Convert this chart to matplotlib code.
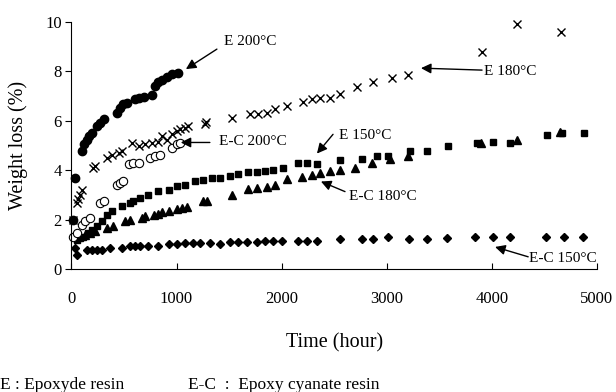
import numpy as np
import matplotlib
matplotlib.use('Agg')
import matplotlib.pyplot as plt

plt.rcParams['font.family'] = ['Liberation Serif', 'DejaVu Serif']

# E 200C - filled circles
e200_t = [15, 29, 98, 124, 146, 168, 193, 241, 273, 305, 431, 463, 495, 527, 606, 638,
          686, 765, 796, 828, 860, 908, 955, 1012]
e200_w = [2.0, 3.7, 4.77, 5.04, 5.24, 5.38, 5.52, 5.79, 5.92, 6.06, 6.33, 6.53, 6.67, 6.73,
          6.87, 6.91, 6.96, 7.05, 7.41, 7.55, 7.64, 7.78, 7.89, 7.93]

# E 180C - crosses
e180_t = [15, 50, 66, 82, 98, 209, 225, 336, 384, 448, 479, 574, 638, 701, 765, 828, 860,
          908, 955, 1000, 1031, 1079, 1111, 1270, 1280, 1524, 1698, 1778, 1857, 1937, 2048,
          2206, 2286, 2365, 2460, 2555, 2714, 2872, 3048, 3206, 3905, 4238, 4657]
e180_w = [2.0, 2.67, 2.83, 3.0, 3.21, 4.09, 4.16, 4.5, 4.63, 4.7, 4.77, 5.11, 4.97, 5.04,
          5.11, 5.15, 5.38, 5.24, 5.45, 5.58, 5.65, 5.72, 5.79, 5.85, 5.95, 6.12, 6.26, 6.26,
          6.33, 6.46, 6.6, 6.75, 6.87, 6.94, 6.94, 7.07, 7.35, 7.55, 7.75, 7.85, 8.8, 9.9, 9.6]

# E 150C - filled squares
e150_t = [50, 82, 114, 162, 193, 241, 290, 336, 384, 479, 558, 590, 653, 733, 828, 924,
          1003, 1082, 1174, 1254, 1333, 1412, 1508, 1587, 1682, 1762, 1841, 1920, 2010,
          2159, 2238, 2333, 2555, 2762, 2905, 3016, 3222, 3381, 3587, 3857, 4016, 4175,
          4524, 4667, 4879]
e150_w = [1.18, 1.25, 1.31, 1.45, 1.59, 1.72, 1.95, 2.2, 2.33, 2.53, 2.67, 2.74, 2.87, 3.01,
          3.14, 3.21, 3.35, 3.41, 3.55, 3.62, 3.69, 3.69, 3.75, 3.86, 3.91, 3.91, 3.96, 4.0,
          4.07, 4.3, 4.3, 4.23, 4.43, 4.46, 4.57, 4.59, 4.77, 4.77, 4.97, 5.11, 5.13, 5.08,
          5.41, 5.52, 5.49]

# E-C 200C - open circles
ec200_t = [19, 50, 98, 130, 177, 273, 305, 431, 463, 495, 543, 590, 638, 749, 796, 844,
           955, 1003, 1034]
ec200_w = [1.31, 1.45, 1.79, 1.92, 2.06, 2.67, 2.74, 3.41, 3.48, 3.55, 4.23, 4.3, 4.3,
           4.5, 4.57, 4.63, 4.9, 5.04, 5.11]

# E-C 180C - triangles
ec180_t = [130, 177, 225, 336, 400, 511, 558, 670, 701, 781, 828, 860, 924, 1003, 1050,
           1098, 1254, 1286, 1524, 1682, 1762, 1857, 1937, 2048, 2190, 2286, 2365, 2460,
           2555, 2698, 2857, 3032, 3206, 3900, 4238, 4650]
ec180_w = [1.38, 1.45, 1.52, 1.65, 1.72, 1.92, 1.99, 2.06, 2.13, 2.2, 2.24, 2.29, 2.33,
           2.43, 2.47, 2.51, 2.74, 2.74, 3.01, 3.24, 3.28, 3.32, 3.41, 3.65, 3.73, 3.82,
           3.89, 3.96, 4.02, 4.09, 4.3, 4.46, 4.57, 5.1, 5.24, 5.54]

# E-C 150C - diamonds
ec150_t = [34, 50, 146, 193, 241, 289, 368, 479, 558, 600, 653, 733, 828, 924, 1003, 1082,
           1158, 1222, 1317, 1412, 1508, 1587, 1667, 1762, 1841, 1920, 2000, 2159, 2238,
           2333, 2555, 2762, 2872, 3016, 3216, 3381, 3578, 3841, 4010, 4174, 4517, 4689, 4872]
ec150_w = [0.84, 0.57, 0.77, 0.77, 0.77, 0.77, 0.84, 0.84, 0.91, 0.93, 0.93, 0.93, 0.93,
           1.02, 1.02, 1.04, 1.04, 1.04, 1.04, 1.02, 1.07, 1.07, 1.07, 1.07, 1.11, 1.11,
           1.15, 1.15, 1.15, 1.15, 1.2, 1.2, 1.2, 1.29, 1.2, 1.2, 1.27, 1.29, 1.29, 1.29,
           1.31, 1.31, 1.31]

fig = plt.figure(figsize=(6.16, 3.92), dpi=100)
ax = fig.add_axes([0.116, 0.314, 0.853, 0.630])

ax.plot(e200_t, e200_w, 'o', color='black', ms=6, clip_on=False)
ax.plot(e180_t, e180_w, 'x', color='black', ms=6, mew=1, clip_on=False)
ax.plot(e150_t, e150_w, 's', color='black', ms=5, clip_on=False)
ax.plot(ec200_t, ec200_w, 'o', mfc='white', mec='black', ms=6, mew=0.8, clip_on=False)
ax.plot(ec180_t, ec180_w, '^', color='black', ms=5.5, clip_on=False)
ax.plot(ec150_t, ec150_w, 'D', color='black', ms=4.5, clip_on=False)

# labels with arrows (tip, tail, text position)
labels = ['E 200°C', 'E-C 200°C', 'E 180°C', 'E 150°C', 'E-C 180°C', 'E-C 150°C']
tips = [(1089, 8.09), (1040, 5.12), (3326, 8.13), (2336, 4.67), (2374, 3.54), (4031, 0.89)]
tails = [(1384, 8.9), (1317, 5.12), (3907, 8.05), (2489, 5.45), (2603, 3.13), (4346, 0.49)]
text_pos = [(1450, 9.2), (1400, 5.15), (3930, 8.0), (2545, 5.42), (2640, 2.93), (4355, 0.41)]
for lab, tip, tail, tp in zip(labels, tips, tails, text_pos):
    ax.annotate('', xy=tip, xytext=tail,
                arrowprops=dict(arrowstyle='-|>,head_length=0.6,head_width=0.3',
                                color='black', lw=1, shrinkA=0, shrinkB=0),
                annotation_clip=False)
    ax.text(tp[0], tp[1], lab, fontsize=11, va='center', ha='left', clip_on=False)

ax.set_xlim(0, 5000)
ax.set_ylim(0, 10)
ax.set_xticks(np.arange(0, 5001, 1000))
ax.set_yticks(np.arange(0, 11, 2))
ax.spines['top'].set_visible(False)
ax.spines['right'].set_visible(False)
ax.tick_params(axis='x', direction='in', length=4, pad=16, labelsize=12)
ax.tick_params(axis='y', direction='out', length=4, pad=3, labelsize=12)
ax.set_xlabel('Time (hour)', fontsize=14.5, labelpad=19)
ax.set_ylabel('Weight loss (%)', fontsize=14.5, labelpad=12)

fig.text(0.0, 0.037, 'E : Epoxyde resin', fontsize=12.5, va='top', ha='left')
fig.text(0.305, 0.037, 'E-C  :  Epoxy cyanate resin', fontsize=12.5, va='top', ha='left')

fig.savefig('out.png', dpi=100)
